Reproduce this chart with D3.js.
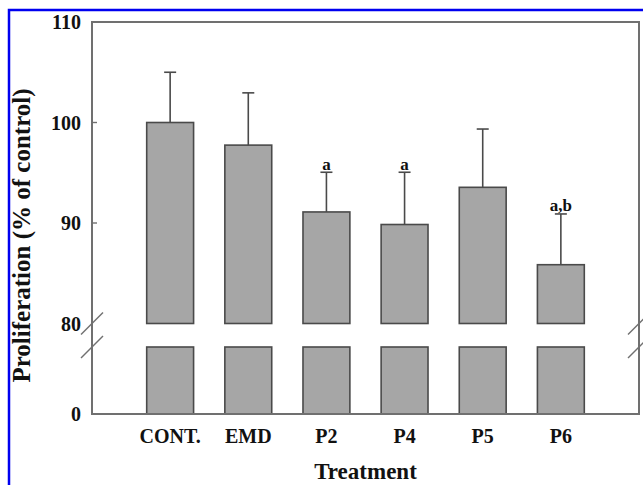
<!DOCTYPE html>
<html>
<head>
<meta charset="utf-8">
<script src="https://cdn.jsdelivr.net/npm/d3@7"></script>
<style>
  html, body { margin: 0; padding: 0; background: #fff; }
  svg { display: block; }
  text { font-family: "Liberation Serif", "Times New Roman", serif; font-weight: bold; fill: #111; }
</style>
</head>
<body>
<svg id="chart" width="643" height="485"></svg>
<script>
// ---- data ----
const categories = ["CONT.", "EMD", "P2", "P4", "P5", "P6"];
const means      = [100, 97.75, 91.1, 89.85, 93.55, 85.85];
const errUpper   = [105, 102.95, 95.05, 95.05, 99.35, 90.9];
const sigLabels  = ["", "", "a", "a", "", "a,b"];
const upperTicks = [80, 90, 100, 110];
const lowerTicks = [0];
const xTitle = "Treatment";
const yTitle = "Proliferation (% of control)";

// ---- layout ----
const svg = d3.select("#chart");
const L = 92, R = 639, T = 22, B = 414;
const upperBottom = 323.5, lowerTop = 347;

const x = d3.scalePoint().domain(categories).range([L, R]).padding(1);
const barW = x.step() * 0.6;
const yU = d3.scaleLinear().domain([80, 110]).range([upperBottom, T]);
const yL = d3.scaleLinear().domain([0, 20]).range([B, lowerTop]);

// blue outer border
svg.append("rect").attr("x", 9).attr("y", 10).attr("width", 700).attr("height", 600)
  .attr("fill", "none").attr("stroke", "#0000f0").attr("stroke-width", 2.5);

const barFill = "#a6a6a6", barStroke = "#4a4a4a", frame = "#707070";

// upper bar segments
svg.append("g").selectAll("rect").data(categories).join("rect")
  .attr("x", d => x(d) - barW / 2)
  .attr("y", (d, i) => yU(means[i]))
  .attr("width", barW)
  .attr("height", (d, i) => yU(80) - yU(means[i]))
  .attr("fill", barFill).attr("stroke", barStroke).attr("stroke-width", 1.6);

// lower bar segments
svg.append("g").selectAll("rect").data(categories).join("rect")
  .attr("x", d => x(d) - barW / 2)
  .attr("y", yL(20))
  .attr("width", barW)
  .attr("height", yL(0) - yL(20))
  .attr("fill", barFill).attr("stroke", barStroke).attr("stroke-width", 1.6);

// error bars
const eg = svg.append("g").attr("stroke", barStroke).attr("stroke-width", 1.6);
categories.forEach((c, i) => {
  eg.append("line").attr("x1", x(c)).attr("x2", x(c))
    .attr("y1", yU(means[i])).attr("y2", yU(errUpper[i]));
  eg.append("line").attr("x1", x(c) - 6).attr("x2", x(c) + 6)
    .attr("y1", yU(errUpper[i])).attr("y2", yU(errUpper[i]));
});

// significance letters
svg.append("g").selectAll("text").data(categories).join("text")
  .attr("x", d => x(d))
  .attr("y", (d, i) => yU(errUpper[i]) - 2.5)
  .attr("text-anchor", "middle")
  .style("font-size", "17px")
  .text((d, i) => sigLabels[i]);

// frame
const fg = svg.append("g").attr("stroke", frame).attr("stroke-width", 2).attr("fill", "none");
fg.append("path").attr("d", `M${L},${B}V${T}H${R}V${B}Z`);

// break slashes
const bs = svg.append("g").attr("stroke", frame).attr("stroke-width", 1.4);
[L, R].forEach(ax => {
  [upperBottom, lowerTop].forEach(yy => {
    bs.append("line").attr("x1", ax - 11).attr("y1", yy + 11).attr("x2", ax + 11).attr("y2", yy - 11);
  });
});
// ticks
const tg = svg.append("g").attr("stroke", frame).attr("stroke-width", 1.4);
[90, 100].forEach(v => {
  tg.append("line").attr("x1", L).attr("x2", L + 5).attr("y1", yU(v)).attr("y2", yU(v));
});

// y tick labels
const tl = svg.append("g").style("font-size", "20px").attr("text-anchor", "end");
upperTicks.forEach(v => {
  tl.append("text").attr("x", 81).attr("y", yU(v)).attr("dy", "0.35em").text(v);
});
lowerTicks.forEach(v => {
  tl.append("text").attr("x", 81).attr("y", yL(v)).attr("dy", "0.35em").text(v);
});

// x category labels
svg.append("g").selectAll("text").data(categories).join("text")
  .attr("x", d => x(d)).attr("y", 443)
  .attr("text-anchor", "middle").style("font-size", "20px")
  .text(d => d);

// axis titles
svg.append("text").attr("x", (L + R) / 2).attr("y", 479)
  .attr("text-anchor", "middle").style("font-size", "23px").text(xTitle);
svg.append("text").attr("transform", "translate(30,235.5) rotate(-90)")
  .attr("text-anchor", "middle").style("font-size", "25px").text(yTitle);
</script>
</body>
</html>
